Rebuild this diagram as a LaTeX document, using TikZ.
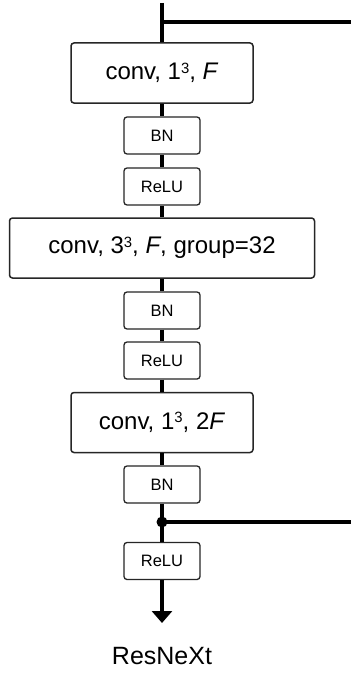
\documentclass[tikz,border=0pt]{standalone}
\usepackage{fontspec}
\setmainfont{Liberation Sans}
\usetikzlibrary{arrows.meta}
% small cube exponent whose top sits at cap height
\newcommand{\cubeexp}{\raisebox{0.27em}{\scalebox{0.62}{3}}}
\tikzset{
  layer/.style={draw=black!85, line width=1.5pt, rounded corners=3pt, fill=white,
    minimum width=182pt, minimum height=60pt, inner sep=0pt, font=\fontsize{24}{28}\selectfont},
  wide/.style={layer, minimum width=305pt},
  small/.style={draw=black!85, line width=1.3pt, rounded corners=3pt, fill=white,
    minimum width=76pt, minimum height=37pt, inner sep=0pt, font=\fontsize{16.5}{19}\selectfont},
  flow/.style={line width=3.5pt, black},
  joint/.style={circle, fill=black, inner sep=0pt, minimum size=11pt},
}
\begin{document}
\begin{tikzpicture}[x=1pt, y=-1pt]
  \useasboundingbox (0,0) rectangle (351,677);
  \fill[white] (0,0) rectangle (351,677);

  % layers of the bottleneck block
  \node[layer] (conv1) at (162,73) {conv, 1\cubeexp, \textit{F}};
  \node[small] (bn1)   at (162,135.5) {BN};
  \node[small] (relu1) at (162,186.5) {ReLU};
  \node[wide]  (conv2) at (162,248) {conv, 3\cubeexp, \textit{F}, group=32};
  \node[small] (bn2)   at (162,310.5) {BN};
  \node[small] (relu2) at (162,360.5) {ReLU};
  \node[layer] (conv3) at (162,422.5) {conv, 1\cubeexp, 2\textit{F}};
  \node[small] (bn3)   at (162,484.5) {BN};
  \node[small] (relu3) at (162,561) {ReLU};
  \node[font=\fontsize{25}{29}\selectfont, anchor=base] (name) at (162,664) {ResNeXt};

  % input, shortcut taps and output
  \coordinate (in)    at (162,3);
  \coordinate (tap)   at (162,22);
  \coordinate (skipA) at (351,22);
  \node[joint] (add) at (162,522) {};
  \coordinate (skipB) at (351,522);
  \coordinate (out)   at (162,623);

  % main path
  \draw[flow] (in) -- (conv1.north);
  \draw[flow] (tap) -- (skipA);
  \draw[flow] (conv1.south) -- (bn1.north);
  \draw[flow] (bn1.south) -- (relu1.north);
  \draw[flow] (relu1.south) -- (conv2.north);
  \draw[flow] (conv2.south) -- (bn2.north);
  \draw[flow] (bn2.south) -- (relu2.north);
  \draw[flow] (relu2.south) -- (conv3.north);
  \draw[flow] (conv3.south) -- (bn3.north);
  \draw[flow] (bn3.south) -- (add.center) -- (relu3.north);
  \draw[flow] (add.center) -- (skipB);
  \draw[flow, -{Triangle[width=20pt, length=12pt]}] (relu3.south) -- (out);
\end{tikzpicture}
\end{document}
